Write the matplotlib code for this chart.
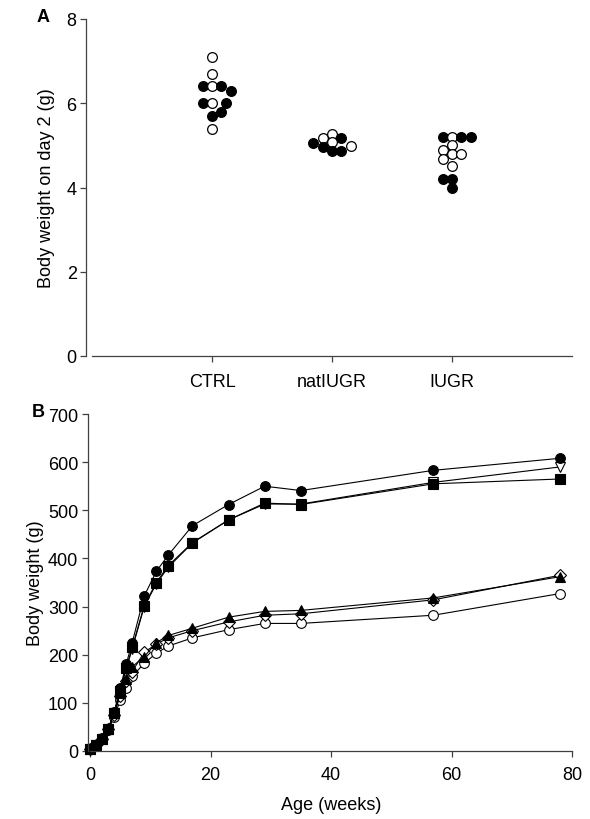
import matplotlib
matplotlib.use("Agg")
import matplotlib.pyplot as plt
import numpy as np

plt.rcParams['font.family'] = ['Liberation Sans', 'DejaVu Sans']

# ---------------- Panel A data ----------------
groups = ["CTRL", "natIUGR", "IUGR"]
# column index within the group (for side-by-side dots), value, filled?
ctrl_col = [0, 0, -1, 0, 1, 2, -1, 0, 1.5, 1, 0, 0]
ctrl_val = [7.1, 6.7, 6.4, 6.4, 6.4, 6.3, 6.0, 6.0, 6.0, 5.8, 5.7, 5.4]
ctrl_fill = [0, 0, 1, 0, 1, 1, 1, 0, 1, 1, 1, 0]

nat_col = [-2, -1, 0, 1, -1, 0, 0, 1, 2]
nat_val = [5.05, 5.17, 5.27, 5.18, 4.96, 5.07, 4.87, 4.87, 4.99]
nat_fill = [1, 0, 0, 1, 1, 0, 1, 1, 0]

iugr_col = [-1, 0, 1, 2, 0, -1, 0, 1, -1, 0, -1, 0, 0]
iugr_val = [5.2, 5.2, 5.2, 5.2, 5.0, 4.88, 4.8, 4.8, 4.68, 4.5, 4.2, 4.2, 4.0]
iugr_fill = [1, 0, 1, 1, 0, 0, 0, 0, 0, 0, 1, 1, 1]

# ---------------- Panel B data ----------------
weeks = [0, 1, 2, 3, 4, 5, 6, 7, 9, 11, 13, 17, 23, 29, 35, 57, 78]
circ_filled = [5, 12, 25, 45, 80, 130, 180, 225, 322, 373, 407, 468, 512, 550, 541, 583, 608]
squares = [5, 12, 25, 45, 78, 125, 172, 215, 302, 350, 385, 433, 480, 515, 512, 555, 565]
tri_down_open = [5, 12, 25, 45, 78, 125, 170, 212, 300, 347, 382, 432, 480, 513, 513, 558, 590]
tri_up_filled = [5, 12, 25, 45, 80, 120, 150, 175, 196, 225, 240, 255, 278, 290, 292, 318, 362]
diamond_open = [5, 12, 25, 45, 75, 115, 145, 165, 205, 222, 235, 250, 268, 282, 285, 314, 365]
circ_open = [4, 13, 28, 43, 70, 105, 130, 155, 182, 203, 218, 235, 252, 265, 265, 282, 327]

W, H = 590, 820
fig = plt.figure(figsize=(W / 100, H / 100), dpi=100)

axcol = '#404040'
fs = 13


def style(ax):
    for s in ['top', 'right']:
        ax.spines[s].set_visible(False)
    for s in ['left', 'bottom']:
        ax.spines[s].set_color(axcol)
        ax.spines[s].set_linewidth(0.9)
    ax.tick_params(direction='out', length=4, width=0.9, color=axcol,
                   labelsize=fs, pad=3)


# ---------------- Panel A ----------------
axA = fig.add_axes([92 / W, 1 - 357 / H, 480 / W, 337 / H])
style(axA)
axA.spines['left'].set_position(('outward', 4))
axA.set_xlim(0, 4)
axA.set_ylim(0, 8)
axA.set_yticks([0, 2, 4, 6, 8])
axA.set_xticks([1, 2, 3])
axA.set_xticklabels(groups)
axA.tick_params(axis='x', pad=8)
axA.set_ylabel("Body weight on day 2 (g)", fontsize=fs, labelpad=8)
dx = 0.079
for ci, (cols, vals, fills) in enumerate([(ctrl_col, ctrl_val, ctrl_fill),
                                          (nat_col, nat_val, nat_fill),
                                          (iugr_col, iugr_val, iugr_fill)]):
    for c, v, f in zip(cols, vals, fills):
        axA.plot(ci + 1 + c * dx, v, 'o', ms=7, mec='black', mew=0.9,
                 mfc='black' if f else 'white', clip_on=False)
fig.text(37 / W, 1 - 18 / H, "A", fontsize=fs, fontweight='bold',
         ha='left', va='center')

# ---------------- Panel B ----------------
axB = fig.add_axes([90 / W, 1 - 752 / H, 482 / W, 337 / H])
style(axB)
axB.spines['left'].set_position(('outward', 1.5))
axB.set_xlim(0, 80)
axB.set_ylim(0, 700)
axB.set_xticks([0, 20, 40, 60, 80])
axB.set_yticks(range(0, 701, 100))
axB.tick_params(axis='x', pad=7)
axB.set_xlabel("Age (weeks)", fontsize=fs, labelpad=9)
axB.set_ylabel("Body weight (g)", fontsize=fs, labelpad=3)

series = [
    (circ_open, 'o', 'white'),
    (diamond_open, 'D', 'white'),
    (tri_up_filled, '^', 'black'),
    (tri_down_open, 'v', 'white'),
    (squares, 's', 'black'),
    (circ_filled, 'o', 'black'),
]
for vals, m, fc in series:
    ms = 7 if m == 'o' else (6 if m == 'D' else 7)
    axB.plot(weeks, vals, '-', color='black', lw=0.8, marker=m, ms=ms,
             mfc=fc, mec='black', mew=0.8, clip_on=False)
fig.text(32 / W, 1 - 413 / H, "B", fontsize=fs, fontweight='bold',
         ha='left', va='center')

fig.savefig("out.png", dpi=100)
